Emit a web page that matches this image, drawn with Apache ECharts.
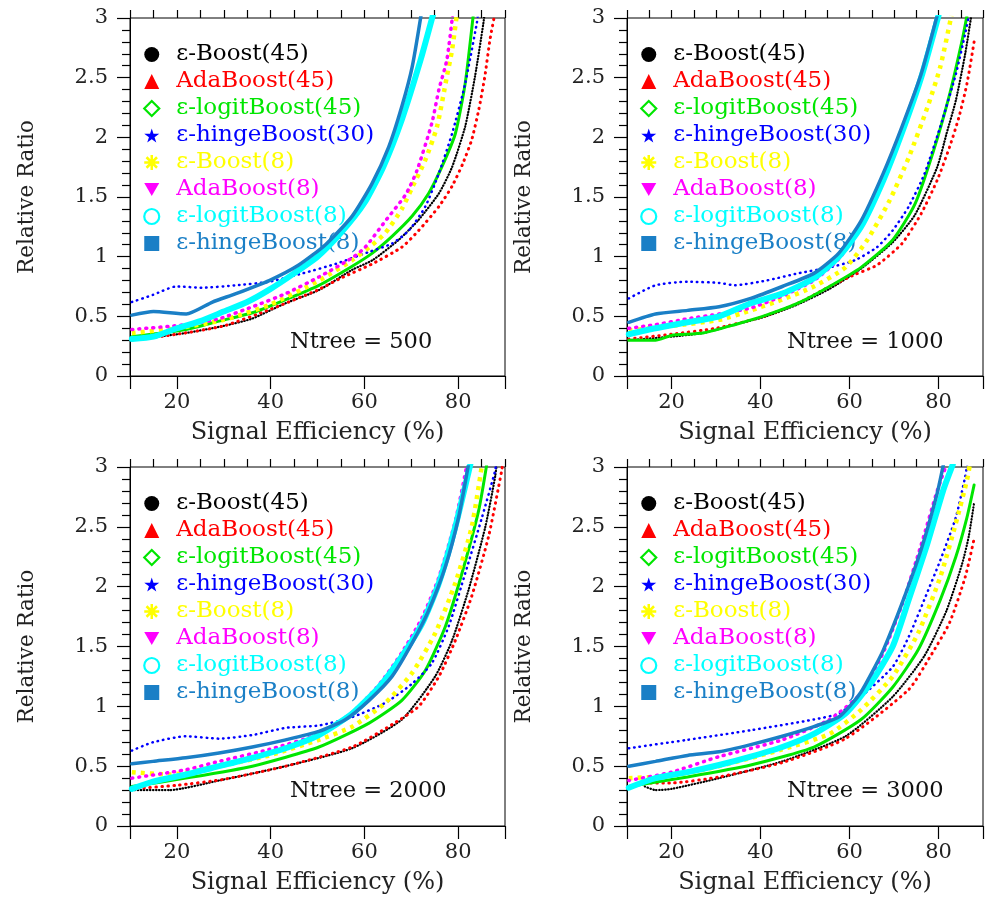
<!DOCTYPE html>
<html>
<head>
<meta charset="utf-8">
<script src="https://cdn.jsdelivr.net/npm/echarts@6/dist/echarts.min.js"></script>
<style>
  html, body { margin: 0; background: #fff; }
  #chart { width: 986px; height: 897px; }
</style>
</head>
<body>
<div id="chart"></div>
<script>
// legend order = drawing order
const seriesNames = ['ε-Boost(45)', 'AdaBoost(45)', 'ε-logitBoost(45)', 'ε-hingeBoost(30)',
                     'ε-Boost(8)', 'AdaBoost(8)', 'ε-logitBoost(8)', 'ε-hingeBoost(8)'];
const seriesColors = ['#000000', '#ff0000', '#00e600', '#0000ff', '#ffff00', '#ff00ff', '#00ffff', '#1a7fc6'];
const ntreeLabels = ['Ntree = 500', 'Ntree = 1000', 'Ntree = 2000', 'Ntree = 3000'];

// Ntree = 500  ([signal efficiency %, relative ratio])
const eBoost45_500 = [[10.4,0.30],[16,0.33],[21.9,0.36],[30,0.42],[36,0.48],[43.2,0.61],[50.3,0.72],[57.4,0.89],[61.7,0.97],[67.3,1.14],[71.6,1.31],[75.9,1.53],[78.7,1.75],[81.5,2.09],[83.6,2.51],[85.4,2.96],[85.8,3.1]];
const ada45_500 = [[10.4,0.30],[20,0.35],[30,0.42],[40,0.56],[50,0.72],[55,0.82],[61.7,0.94],[68,1.08],[71.6,1.22],[75.9,1.42],[78.7,1.59],[81,1.78],[82.9,1.98],[84.4,2.23],[85.7,2.51],[86.8,2.82],[87.9,3.05]];
const logit45_500 = [[10.4,0.33],[21.9,0.39],[29,0.46],[36.1,0.53],[43.2,0.64],[50.3,0.76],[57.4,0.92],[61.7,1.03],[65.9,1.17],[70.2,1.34],[73.7,1.53],[76.5,1.75],[79.4,2.03],[81.5,2.45],[83.3,3.05]];
const hinge30_500 = [[10.4,0.62],[14.9,0.68],[19.8,0.75],[25.5,0.74],[32.6,0.76],[39.7,0.79],[46.8,0.86],[53.9,0.94],[61,1.04],[65.9,1.11],[69.5,1.22],[73,1.42],[75.9,1.70],[78.7,2.03],[81.5,2.45],[84,2.96],[84.3,3.05]];
const eBoost8_500 = [[10.4,0.36],[20,0.40],[30,0.47],[40,0.60],[50.3,0.80],[57.4,0.97],[61.7,1.10],[64.5,1.20],[68,1.40],[70.2,1.58],[73,1.81],[75.5,2.09],[77.6,2.51],[78.7,2.73],[79.8,3.05]];
const ada8_500 = [[10.4,0.39],[21.9,0.43],[29,0.48],[36.1,0.58],[43.2,0.69],[50.3,0.83],[57.4,0.99],[60.2,1.08],[64.5,1.30],[68.8,1.52],[71.2,1.72],[74.4,2.12],[75.9,2.40],[77.6,2.65],[78.9,3.05]];
const logit8_500 = [[10.4,0.31],[15,0.33],[20,0.40],[25,0.46],[30,0.54],[35,0.62],[40,0.73],[45,0.86],[50,1.00],[55,1.20],[60,1.45],[64,1.75],[68,2.15],[72,2.65],[74.8,3.05]];
const hinge8_500 = [[10.4,0.51],[15,0.54],[22,0.52],[27.6,0.62],[32.6,0.69],[39.7,0.80],[46,0.93],[51.7,1.10],[57.4,1.34],[61.6,1.61],[65.2,1.92],[68,2.26],[70.2,2.59],[72.2,3.05]];

// Ntree = 1000
const eBoost45_1000 = [[10.4,0.30],[20,0.33],[27.1,0.36],[34.2,0.43],[41.3,0.50],[48.4,0.60],[55.5,0.73],[62.6,0.90],[69.7,1.12],[74.7,1.35],[79.7,1.75],[81.8,2.03],[83.9,2.31],[86,2.70],[87.5,3.05]];
const ada45_1000 = [[10.4,0.31],[20,0.35],[30,0.40],[40,0.49],[48.4,0.61],[55.5,0.75],[61.2,0.85],[66.2,0.93],[71.8,1.11],[76.1,1.36],[79.7,1.64],[82.5,1.92],[84.6,2.17],[86.4,2.45],[88,2.8]];
const logit45_1000 = [[10.4,0.30],[16.4,0.30],[20,0.34],[27.1,0.36],[34.2,0.43],[41.3,0.51],[48.4,0.61],[55.5,0.75],[62.6,0.91],[69.7,1.14],[74.7,1.44],[78.9,1.89],[82.5,2.36],[85.3,2.81],[86.4,3.02]];
const hinge30_1000 = [[10.4,0.65],[16.4,0.76],[23.6,0.79],[30.7,0.78],[34.2,0.76],[41.3,0.80],[48.4,0.86],[55.5,0.91],[61.2,0.97],[66.2,1.08],[69.7,1.22],[73.3,1.42],[76.8,1.69],[80.4,2.09],[83.9,2.53],[86,2.87],[87,3.05]];
const eBoost8_1000 = [[10.4,0.38],[20,0.42],[30.7,0.47],[37.8,0.55],[44.9,0.64],[52,0.75],[59.1,0.91],[64,1.14],[69,1.47],[73.3,1.83],[77.5,2.25],[80.4,2.59],[82.9,3.02]];
const ada8_1000 = [[10.4,0.40],[16.4,0.43],[23.6,0.48],[30.7,0.52],[37.8,0.57],[44.9,0.67],[52,0.80],[57.6,0.98],[62.6,1.26],[67.6,1.66],[71.8,2.06],[76.1,2.52],[79.7,3.02]];
const logit8_1000 = [[10.4,0.35],[16.4,0.40],[23.6,0.45],[30.7,0.50],[37.8,0.61],[44.9,0.69],[52,0.82],[57.6,1.0],[62.6,1.25],[67.6,1.64],[71.8,2.04],[76.1,2.50],[80,3.02]];
const hinge8_1000 = [[10.4,0.45],[16.4,0.52],[23.6,0.55],[30.7,0.58],[37.8,0.65],[44.9,0.75],[52,0.86],[57.6,1.03],[62.6,1.30],[67.6,1.70],[71.8,2.09],[76.1,2.53],[79.7,3.02]];

// Ntree = 2000
const eBoost45_2000 = [[10.4,0.30],[18.4,0.30],[29,0.38],[43.2,0.50],[57.4,0.65],[68,0.89],[75.1,1.25],[78.7,1.55],[82.2,1.97],[85.8,2.50],[87.9,2.92],[88.3,3.05]];
const ada45_2000 = [[10.4,0.31],[20,0.34],[30,0.39],[43.2,0.50],[57.4,0.66],[66,0.85],[71.6,1.00],[75.9,1.25],[79.4,1.55],[82.9,1.92],[86.5,2.42],[89.3,2.97],[89.6,3.05]];
const logit45_2000 = [[10.4,0.33],[21.9,0.40],[36.1,0.50],[50.3,0.66],[61,0.86],[68,1.05],[73,1.30],[77.3,1.67],[80.8,2.11],[84.4,2.64],[86.1,3.02]];
const hinge30_2000 = [[10.4,0.63],[14.9,0.70],[21.9,0.75],[29,0.73],[36.1,0.76],[43.2,0.82],[50.3,0.84],[57.4,0.91],[64.5,1.03],[70.2,1.19],[74.4,1.36],[78,1.67],[81.5,2.11],[85.1,2.58],[87.9,2.97],[88.2,3.05]];
const eBoost8_2000 = [[10.4,0.45],[18.4,0.43],[29,0.50],[39.7,0.59],[50.3,0.72],[57.4,0.83],[64.5,1.03],[70.2,1.28],[75.1,1.61],[79.4,2.03],[82.9,2.50],[85.1,3.02]];
const ada8_2000 = [[10.4,0.40],[21.9,0.47],[29,0.54],[39.7,0.64],[50.3,0.77],[57.4,0.95],[63.1,1.18],[68,1.45],[72.3,1.74],[75.9,2.08],[79.4,2.55],[81.9,3.02]];
const logit8_2000 = [[10.4,0.31],[14.9,0.37],[21.9,0.43],[29,0.50],[36.1,0.57],[43.2,0.65],[50.3,0.76],[57.4,0.94],[63.1,1.16],[68,1.42],[72.3,1.69],[75.9,2.03],[79.4,2.50],[82.6,3.02]];
const hinge8_2000 = [[10.4,0.52],[14.9,0.54],[21.9,0.57],[29,0.61],[36.1,0.66],[43.2,0.72],[50.3,0.79],[56,0.89],[61,1.05],[65.9,1.25],[70.2,1.53],[73.7,1.80],[77.3,2.17],[80.1,2.58],[82.2,3.02]];

// Ntree = 3000
const eBoost45_3000 = [[14,0.33],[16.4,0.30],[20,0.31],[30.7,0.40],[44.9,0.54],[59.1,0.75],[69.7,1.08],[76.8,1.42],[81.8,1.80],[85.3,2.19],[86.8,2.42],[88,2.7]];
const ada45_3000 = [[14,0.36],[20,0.36],[30.7,0.41],[44.9,0.53],[59.1,0.73],[73.3,1.14],[78.2,1.42],[82.5,1.70],[86,2.08],[88,2.4]];
const logit45_3000 = [[10.4,0.33],[23.6,0.41],[37.8,0.51],[52,0.66],[62.6,0.89],[69.7,1.16],[75.4,1.47],[80.4,1.89],[83.9,2.25],[86.4,2.58],[88,2.85]];
const hinge30_3000 = [[10.4,0.65],[23.6,0.72],[37.8,0.80],[52,0.89],[57.6,0.94],[62.6,1.08],[69.7,1.33],[73.3,1.58],[76.8,1.89],[80.4,2.22],[83.9,2.58],[86,2.92],[86.6,3.05]];
const eBoost8_3000 = [[10.4,0.40],[20,0.42],[30.7,0.50],[44.9,0.64],[55.5,0.77],[62.6,0.97],[69.7,1.25],[75.4,1.61],[80.4,2.08],[83.9,2.53],[86.4,2.89],[87.2,3.05]];
const ada8_3000 = [[10.4,0.38],[20,0.45],[30.7,0.58],[44.9,0.72],[55.5,0.89],[62.6,1.11],[67.6,1.45],[71.8,1.85],[76.1,2.35],[79.7,2.80],[81.8,3.02]];
const logit8_3000 = [[10.4,0.32],[16.4,0.40],[23.6,0.45],[30.7,0.51],[37.8,0.58],[44.9,0.66],[52,0.77],[59.1,0.94],[64.7,1.19],[69.7,1.50],[73.3,1.89],[77.5,2.36],[81.1,2.81],[83.2,3.02]];
const hinge8_3000 = [[10.4,0.50],[16.4,0.54],[23.6,0.59],[30.7,0.62],[37.8,0.68],[44.9,0.75],[52,0.83],[57.6,0.91],[60.5,1.02],[62.6,1.12],[65,1.28],[67.6,1.47],[71.8,1.86],[76.1,2.31],[79.7,2.78],[81.1,3.02]];

const panelData = [
  [eBoost45_500, ada45_500, logit45_500, hinge30_500, eBoost8_500, ada8_500, logit8_500, hinge8_500],
  [eBoost45_1000, ada45_1000, logit45_1000, hinge30_1000, eBoost8_1000, ada8_1000, logit8_1000, hinge8_1000],
  [eBoost45_2000, ada45_2000, logit45_2000, hinge30_2000, eBoost8_2000, ada8_2000, logit8_2000, hinge8_2000],
  [eBoost45_3000, ada45_3000, logit45_3000, hinge30_3000, eBoost8_3000, ada8_3000, logit8_3000, hinge8_3000]
];

// styles
const FONT = 'DejaVu Serif';
const lineWidths = [2.2, 3, 3, 2.5, 4.5, 3.5, 6, 3.5];
const lineTypes = [[0.5, 2.5], [0.5, 5.5], 'solid', [0.5, 5], [4, 5], [1, 6], 'solid', 'solid'];
const lineCaps = ['round', 'round', 'round', 'round', 'butt', 'round', 'round', 'round'];

const starPath = 'path://M50,0 L61,35 L98,35 L68,57 L79,91 L50,70 L21,91 L32,57 L2,35 L39,35 Z';
const asteriskPath = 'path://M50,0 L50,100 M0,50 L100,50 M15,15 L85,85 M85,15 L15,85';
const invTriPath = 'path://M0,0 L100,0 L50,87 Z';
const legendIcons = ['circle', 'triangle', 'diamond', starPath, asteriskPath, invTriPath, 'circle', 'rect'];
const legendItemStyles = seriesColors.map((c, k) => {
  if (k === 2 || k === 6) return { color: '#ffffff', borderColor: c, borderWidth: 2.2 };
  if (k === 4) return { color: c, borderColor: c, borderWidth: 2.5 };
  return { color: c, borderColor: c, borderWidth: 0 };
});

// panel layout (px)
const gridLeft = [130, 627, 130, 627];
const gridTop = [18, 18, 467, 467];
const gridWidth = [375, 375, 375, 375];
const gridHeight = [358, 358, 359, 359];

const chart = echarts.init(document.getElementById('chart'), null, { renderer: 'canvas' });

const grids = gridLeft.map((l, i) => ({
  left: l, top: gridTop[i], width: gridWidth[i], height: gridHeight[i],
  show: true, borderColor: '#000', borderWidth: 1, backgroundColor: 'transparent'
}));

const xAxes = [];
gridLeft.forEach((l, i) => {
  xAxes.push({
    type: 'value', gridIndex: i, min: 10, max: 90, splitNumber: 4,
    axisLine: { lineStyle: { color: '#000', width: 1 } },
    axisTick: { length: 13, lineStyle: { color: '#000', width: 1.2 } },
    axisLabel: {
      fontFamily: FONT, fontSize: 21, color: '#222', margin: 16,
      formatter: v => (v % 20 === 0 && v > 10 && v < 90) ? String(v) : ''
    },
    splitLine: { show: false },
    name: 'Signal Efficiency (%)', nameLocation: 'middle', nameGap: 45,
    nameTextStyle: { fontFamily: FONT, fontSize: 24, color: '#222' }
  });
  xAxes.push({
    type: 'value', gridIndex: i, min: 10, max: 90, interval: 5,
    axisLine: { show: false },
    axisTick: { length: 8, lineStyle: { color: '#000', width: 1.2 } },
    axisLabel: { show: false },
    splitLine: { show: false }
  });
});

const yAxes = gridLeft.map((l, i) => ({
  type: 'value', gridIndex: i, min: 0, max: 3, interval: 0.5,
  axisLine: { lineStyle: { color: '#000', width: 1 } },
  axisTick: { length: 13, lineStyle: { color: '#000', width: 1.2 } },
  minorTick: { show: true, splitNumber: 5, length: 8, lineStyle: { color: '#000', width: 1.2 } },
  axisLabel: { fontFamily: FONT, fontSize: 21, color: '#222', margin: 22 },
  splitLine: { show: false },
  name: 'Relative Ratio', nameLocation: 'middle', nameGap: 92,
  nameTextStyle: { fontFamily: FONT, fontSize: 21.5, color: '#222' }
}));

const legends = gridLeft.map((l, i) => ({
  orient: 'vertical', left: l + 8, top: gridTop[i] + 20,
  itemWidth: 15, itemHeight: 15, itemGap: 4, selectedMode: false,
  textStyle: { fontFamily: FONT, fontSize: 23, lineHeight: 23, padding: [0, 0, 0, 12] },
  data: seriesNames.map((n, k) => ({
    name: n, icon: legendIcons[k], itemStyle: legendItemStyles[k],
    textStyle: { color: seriesColors[k] }
  }))
}));

const titles = gridLeft.map((l, i) => ({
  text: ntreeLabels[i], left: l + 155, top: gridTop[i] + 308,
  textStyle: { fontFamily: FONT, fontSize: 22.5, fontWeight: 'normal', color: '#111' }
}));

const series = [];
panelData.forEach((arrs, i) => {
  arrs.forEach((d, k) => {
    series.push({
      name: seriesNames[k], type: 'line', xAxisIndex: 2 * i, yAxisIndex: i,
      data: d, showSymbol: false, smooth: 0.2,
      silent: true, z: 2 + k,
      itemStyle: { color: seriesColors[k] },
      lineStyle: { color: seriesColors[k], width: lineWidths[k], type: lineTypes[k], cap: lineCaps[k] }
    });
  });
});

chart.setOption({
  animation: false,
  backgroundColor: '#fff',
  title: titles,
  legend: legends,
  grid: grids,
  xAxis: xAxes,
  yAxis: yAxes,
  series: series
});
</script>
</body>
</html>
